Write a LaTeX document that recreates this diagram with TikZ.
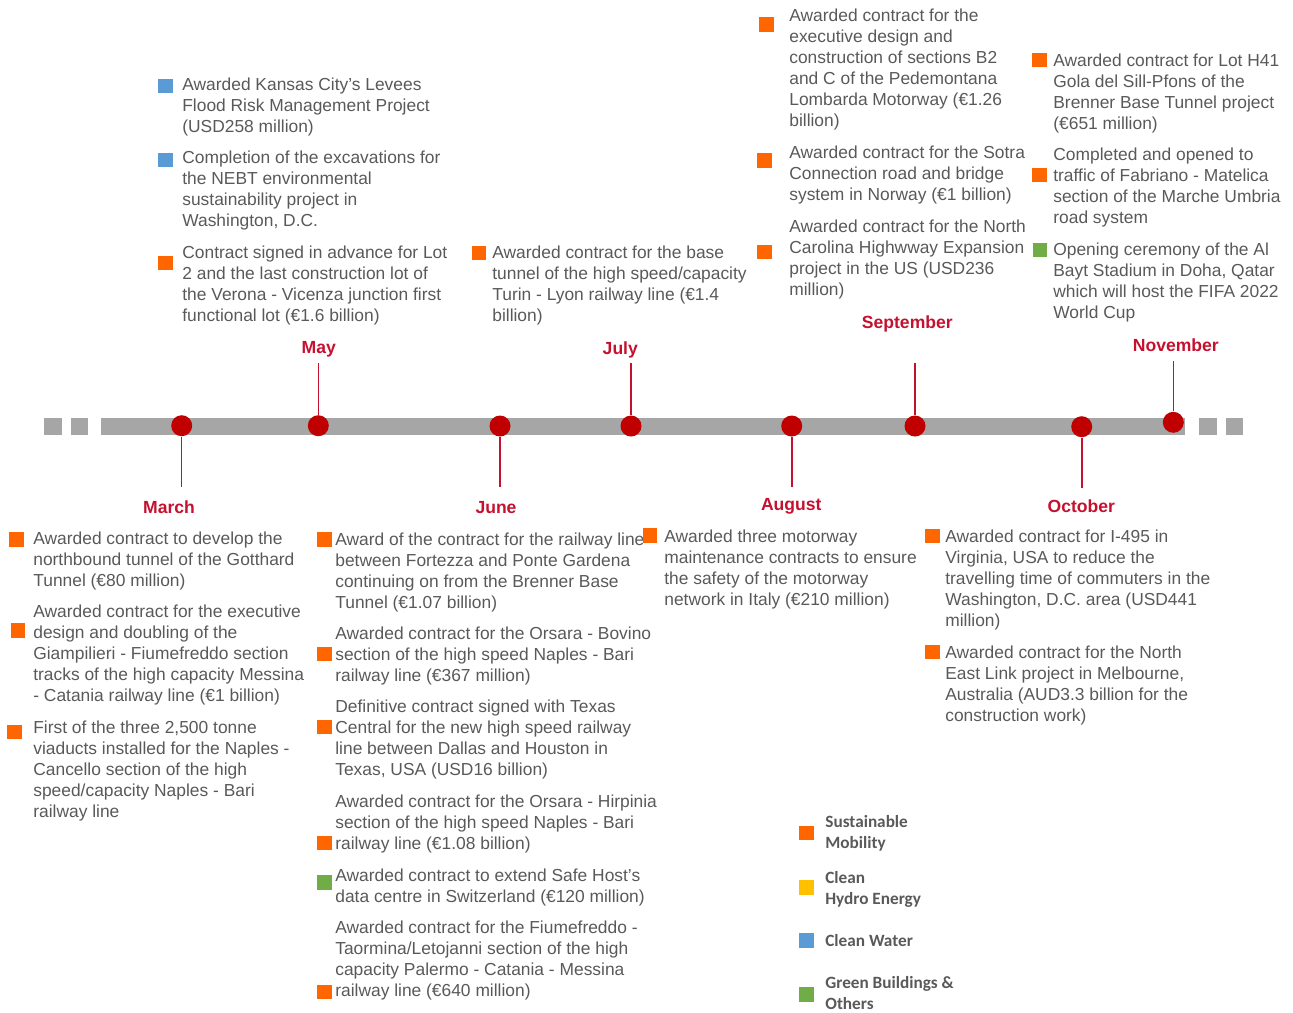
\documentclass[tikz,border=0pt]{standalone}
\usepackage{fontspec}
\setmainfont{Liberation Sans}
\newfontfamily\legendfont{Carlito}
\definecolor{bargrey}{HTML}{A6A6A6}
\definecolor{txtgrey}{HTML}{595959}
\definecolor{dotred}{HTML}{C00000}
\definecolor{monthred}{HTML}{C5112F}
\definecolor{mobility}{HTML}{FF6600}
\definecolor{hydro}{HTML}{FFC000}
\definecolor{water}{HTML}{5B9BD5}
\definecolor{green}{HTML}{70AD47}

\begin{document}
\begin{tikzpicture}[x=0.02cm,y=-0.02cm,
    evt/.style={anchor=north west,inner sep=0pt,align=left,text=txtgrey,font=\fontsize{9.9}{11.95}\selectfont},
    lgd/.style={anchor=north west,inner sep=0pt,align=left,text=txtgrey,font=\legendfont\bfseries\fontsize{9.8}{11.9}\selectfont},
    sqbox/.style={rectangle,inner sep=0pt,minimum size=0.29cm},
    dot/.style={circle,fill=dotred,inner sep=0pt,minimum size=0.42cm},
    month/.style={anchor=base,text=monthred,font=\bfseries\fontsize{10}{12}\selectfont},
    stem/.style={draw=monthred,line width=0.9pt}]
  \useasboundingbox (0,0) rectangle (1293,1012);

  % timeline bar
  \fill[bargrey] (44,418) rectangle (62,435);
  \fill[bargrey] (71,418) rectangle (88,435);
  \fill[bargrey] (101,418) rectangle (1185,435);
  \fill[bargrey] (1199,418) rectangle (1217,435);
  \fill[bargrey] (1226,418) rectangle (1243,435);

  % months
  \node[dot] (dMar) at (181.7,425.7) {};
  \node[dot] (dMay) at (318.3,425.7) {};
  \node[dot] (dJun) at (500,426) {};
  \node[dot] (dJul) at (631,426) {};
  \node[dot] (dAug) at (791.7,426) {};
  \node[dot] (dSep) at (915,426) {};
  \node[dot] (dOct) at (1081.7,426.7) {};
  \node[dot] (dNov) at (1173.3,422.3) {};
  \coordinate (eMar) at (181.7,487);
  \coordinate (eMay) at (318.3,363);
  \coordinate (eJun) at (500,487);
  \coordinate (eJul) at (631,363);
  \coordinate (eAug) at (791.7,487);
  \coordinate (eSep) at (915,363);
  \coordinate (eOct) at (1081.7,488);
  \coordinate (eNov) at (1173.3,361);
  \draw[stem] (dMar) -- (eMar);
  \draw[stem] (dMay) -- (eMay);
  \draw[stem] (dJun) -- (eJun);
  \draw[stem] (dJul) -- (eJul);
  \draw[stem] (dAug) -- (eAug);
  \draw[stem] (dSep) -- (eSep);
  \draw[stem] (dOct) -- (eOct);
  \draw[stem] (dNov) -- (eNov);
  \node[month] (lMar) at (169,513) {March};
  \node[month] (lMay) at (318.7,353.5) {May};
  \node[month] (lJun) at (496,513) {June};
  \node[month] (lJul) at (620.3,354) {July};
  \node[month] (lAug) at (791.3,510) {August};
  \node[month] (lSep) at (907.3,328.3) {September};
  \node[month] (lOct) at (1081.3,512.7) {October};
  \node[month] (lNov) at (1175.8,351.7) {November};

  % May
  \node[sqbox,fill=water] (qMay1) at (165.5,86) {};
  \node[evt] (tMay1) at (182,78) {Awarded Kansas City's Levees\\Flood Risk Management Project\\(USD258 million)};
  \node[sqbox,fill=water] (qMay2) at (165.5,160) {};
  \node[evt] (tMay2) at (182,151) {Completion of the excavations for\\the NEBT environmental\\sustainability project in\\Washington, D.C.};
  \node[sqbox,fill=mobility] (qMay3) at (165.5,263) {};
  \node[evt] (tMay3) at (182,246) {Contract signed in advance for Lot\\2 and the last construction lot of\\the Verona - Vicenza junction first\\functional lot (€1.6 billion)};

  % July
  \node[sqbox,fill=mobility] (qJul1) at (479,253) {};
  \node[evt] (tJul1) at (492,246) {Awarded contract for the base\\tunnel of the high speed/capacity\\Turin - Lyon railway line (€1.4\\billion)};

  % September
  \node[sqbox,fill=mobility] (qSep1) at (766.5,24.5) {};
  \node[evt] (tSep1) at (789,9) {Awarded contract for the\\executive design and\\construction of sections B2\\and C of the Pedemontana\\Lombarda Motorway (€1.26\\billion)};
  \node[sqbox,fill=mobility] (qSep2) at (764.5,160.5) {};
  \node[evt] (tSep2) at (789,146) {Awarded contract for the Sotra\\Connection road and bridge\\system in Norway (€1 billion)};
  \node[sqbox,fill=mobility] (qSep3) at (764.5,252) {};
  \node[evt] (tSep3) at (789,220) {Awarded contract for the North\\Carolina Highwway Expansion\\project in the US (USD236\\million)};

  % November
  \node[sqbox,fill=mobility] (qNov1) at (1039.5,60) {};
  \node[evt] (tNov1) at (1053,54) {Awarded contract for Lot H41\\Gola del Sill-Pfons of the\\Brenner Base Tunnel project\\(€651 million)};
  \node[sqbox,fill=mobility] (qNov2) at (1039.5,175) {};
  \node[evt] (tNov2) at (1053,148) {Completed and opened to\\traffic of Fabriano - Matelica\\section of the Marche Umbria\\road system};
  \node[sqbox,fill=green] (qNov3) at (1040,250) {};
  \node[evt] (tNov3) at (1053,243) {Opening ceremony of the Al\\Bayt Stadium in Doha, Qatar\\which will host the FIFA 2022\\World Cup};

  % March
  \node[sqbox,fill=mobility] (qMar1) at (16.5,539.5) {};
  \node[evt] (tMar1) at (33,532) {Awarded contract to develop the\\northbound tunnel of the Gotthard\\Tunnel (€80 million)};
  \node[sqbox,fill=mobility] (qMar2) at (18,630.5) {};
  \node[evt] (tMar2) at (33,605) {Awarded contract for the executive\\design and doubling of the\\Giampilieri - Fiumefreddo section\\tracks of the high capacity Messina\\- Catania railway line (€1 billion)};
  \node[sqbox,fill=mobility] (qMar3) at (14.5,732) {};
  \node[evt] (tMar3) at (33,721) {First of the three 2,500 tonne\\viaducts installed for the Naples -\\Cancello section of the high\\speed/capacity Naples - Bari\\railway line};

  % June
  \node[sqbox,fill=mobility] (qJun1) at (324.5,539.5) {};
  \node[evt] (tJun1) at (335,533) {Award of the contract for the railway line\\between Fortezza and Ponte Gardena\\continuing on from the Brenner Base\\Tunnel (€1.07 billion)};
  \node[sqbox,fill=mobility] (qJun2) at (324.5,654) {};
  \node[evt] (tJun2) at (335,627) {Awarded contract for the Orsara - Bovino\\section of the high speed Naples - Bari\\railway line (€367 million)};
  \node[sqbox,fill=mobility] (qJun3) at (324.5,727) {};
  \node[evt] (tJun3) at (335,700) {Definitive contract signed with Texas\\Central for the new high speed railway\\line between Dallas and Houston in\\Texas, USA (USD16 billion)};
  \node[sqbox,fill=mobility] (qJun4) at (324.5,843) {};
  \node[evt] (tJun4) at (335,795) {Awarded contract for the Orsara - Hirpinia\\section of the high speed Naples - Bari\\railway line (€1.08 billion)};
  \node[sqbox,fill=green] (qJun5) at (324.5,882.5) {};
  \node[evt] (tJun5) at (335,869) {Awarded contract to extend Safe Host's\\data centre in Switzerland (€120 million)};
  \node[sqbox,fill=mobility] (qJun6) at (324.5,992) {};
  \node[evt] (tJun6) at (335,921) {Awarded contract for the Fiumefreddo -\\Taormina/Letojanni section of the high\\capacity Palermo - Catania - Messina\\railway line (€640 million)};

  % August
  \node[sqbox,fill=mobility] (qAug1) at (650,535.5) {};
  \node[evt] (tAug1) at (664,530) {Awarded three motorway\\maintenance contracts to ensure\\the safety of the motorway\\network in Italy (€210 million)};

  % October
  \node[sqbox,fill=mobility] (qOct1) at (932.5,536) {};
  \node[evt] (tOct1) at (945,530) {Awarded contract for I-495 in\\Virginia, USA to reduce the\\travelling time of commuters in the\\Washington, D.C. area (USD441\\million)};
  \node[sqbox,fill=mobility] (qOct2) at (932.5,652) {};
  \node[evt] (tOct2) at (945,646) {Awarded contract for the North\\East Link project in Melbourne,\\Australia (AUD3.3 billion for the\\construction work)};

  % legend
  \node[sqbox,fill=mobility] (kMob) at (806.5,833) {};
  \node[lgd] (gMob) at (825,815.5) {Sustainable\\Mobility};
  \node[sqbox,fill=hydro] (kHyd) at (806.5,887.5) {};
  \node[lgd] (gHyd) at (825,871) {Clean\\Hydro Energy};
  \node[sqbox,fill=water] (kWat) at (806.5,940.5) {};
  \node[lgd] (gWat) at (825,934.5) {Clean Water};
  \node[sqbox,fill=green] (kGrn) at (806.5,994.5) {};
  \node[lgd] (gGrn) at (825,976.5) {Green Buildings \&\\Others};
\end{tikzpicture}
\end{document}
